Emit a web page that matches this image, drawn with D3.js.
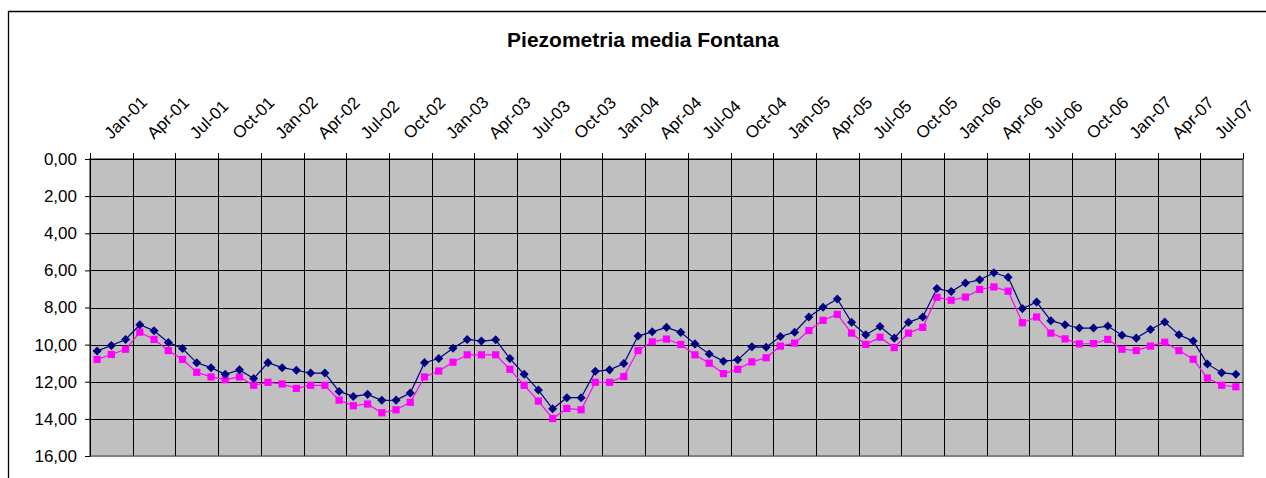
<!DOCTYPE html>
<html>
<head>
<meta charset="utf-8">
<script src="https://cdn.jsdelivr.net/npm/d3@7"></script>
<style>
  body { margin: 0; background: #fff; }
  svg text { font-family: Arial, "Liberation Sans", sans-serif; fill: #000; }
</style>
</head>
<body>
<svg id="grafico" width="1266" height="478"></svg>
<script>
// Piezometria media mensile, gen 2001 - set 2007 (m dal p.c.)
const mesi = d3.timeMonth.range(new Date(2001, 0, 1), new Date(2007, 9, 1));

const tickLabels = ["Jan-01","Apr-01","Jul-01","Oct-01","Jan-02","Apr-02","Jul-02","Oct-02",
    "Jan-03","Apr-03","Jul-03","Oct-03","Jan-04","Apr-04","Jul-04","Oct-04",
    "Jan-05","Apr-05","Jul-05","Oct-05","Jan-06","Apr-06","Jul-06","Oct-06",
    "Jan-07","Apr-07","Jul-07"];

const serieBlu = [10.34,10.05,9.72,8.93,9.25,9.88,10.21,10.98,11.24,11.60,11.36,11.83,
    10.97,11.24,11.38,11.53,11.53,12.52,12.79,12.68,13.00,12.99,12.61,10.97,
    10.75,10.19,9.72,9.81,9.74,10.75,11.60,12.45,13.46,12.86,12.86,11.44,
    11.36,11.02,9.54,9.31,9.07,9.34,9.96,10.50,10.89,10.82,10.12,10.14,
    9.56,9.33,8.51,7.99,7.54,8.80,9.47,9.02,9.65,8.80,8.51,6.98,
    7.14,6.68,6.51,6.13,6.37,8.06,7.70,8.71,8.93,9.11,9.11,9.00,
    9.49,9.65,9.18,8.78,9.47,9.81,11.04,11.51,11.60];

const serieRosa = [10.80,10.53,10.25,9.33,9.72,10.32,10.80,11.49,11.74,11.89,11.74,12.19,
    12.03,12.12,12.36,12.19,12.19,12.99,13.29,13.20,13.67,13.51,13.11,11.74,
    11.42,10.95,10.55,10.55,10.55,11.33,12.19,13.04,13.98,13.44,13.51,12.03,
    12.03,11.72,10.32,9.85,9.70,9.99,10.55,11.00,11.56,11.33,10.93,10.71,
    10.08,9.92,9.24,8.69,8.37,9.38,9.99,9.60,10.16,9.38,9.07,7.45,
    7.61,7.44,7.03,6.89,7.12,8.82,8.51,9.38,9.69,9.96,9.94,9.72,
    10.25,10.32,10.08,9.87,10.32,10.79,11.80,12.19,12.27];

const yTicks = [0, 2, 4, 6, 8, 10, 12, 14, 16];

const svg = d3.select("#grafico");
const area = { left: 90, right: 1243, top: 159, bottom: 456 };

const it = d3.formatLocale({ decimal: ",", thousands: ".", grouping: [3], currency: ["", "€"] });
const fmt = it.format(".2f");

const x = d3.scaleBand()
    .domain(mesi.map(d => +d))
    .range([area.left, area.right])
    .paddingInner(0).paddingOuter(0);

const y = d3.scaleLinear()
    .domain([0, 16])
    .range([area.top, area.bottom]);

const cx = d => x(+d) + x.bandwidth() / 2;

// bordo esterno del grafico
svg.append("path")
    .attr("d", "M8.5,478V11.5H1266")
    .attr("fill", "none")
    .attr("stroke", "#000")
    .attr("stroke-width", 1.3);

svg.append("text")
    .attr("x", 643)
    .attr("y", 47)
    .attr("text-anchor", "middle")
    .style("font-size", "21px")
    .style("font-weight", "bold")
    .text("Piezometria media Fontana");

// area del grafico
svg.append("rect")
    .attr("x", area.left).attr("y", area.top)
    .attr("width", area.right - area.left)
    .attr("height", area.bottom - area.top)
    .attr("fill", "#c0c0c0")
    .attr("stroke", "#808080")
    .attr("stroke-width", 2);

// griglia orizzontale
svg.append("g")
    .selectAll("line")
    .data(yTicks.slice(1, -1))
    .join("line")
    .attr("x1", area.left).attr("x2", area.right)
    .attr("y1", d => Math.round(y(d)) + 0.5).attr("y2", d => Math.round(y(d)) + 0.5)
    .attr("stroke", "#000");

// griglia verticale ogni trimestre
const trimestri = mesi.filter((d, i) => i % 3 === 0);
const xBordi = trimestri.map(d => x(+d)).concat([area.right]);

svg.append("g")
    .selectAll("line")
    .data(xBordi.slice(1, -1))
    .join("line")
    .attr("x1", d => Math.round(d) + 0.5).attr("x2", d => Math.round(d) + 0.5)
    .attr("y1", area.top).attr("y2", area.bottom)
    .attr("stroke", "#000");

// asse Y
const yAxis = svg.append("g")
    .attr("transform", `translate(${area.left},0)`)
    .call(d3.axisLeft(y).tickValues(yTicks).tickFormat(fmt).tickSize(5).tickSizeOuter(0).tickPadding(8));
yAxis.select(".domain").attr("stroke", "#000");
yAxis.selectAll("line").attr("stroke", "#000");
yAxis.selectAll("text")
    .style("font-size", "17px")
    .style("font-family", "Arial, 'Liberation Sans', sans-serif");

// asse X (in alto)
svg.append("line")
    .attr("x1", area.left).attr("x2", area.right)
    .attr("y1", area.top + 0.5).attr("y2", area.top + 0.5)
    .attr("stroke", "#000");

svg.append("g")
    .selectAll("line")
    .data(xBordi)
    .join("line")
    .attr("x1", d => Math.round(d) + 0.5).attr("x2", d => Math.round(d) + 0.5)
    .attr("y1", area.top - 6).attr("y2", area.top)
    .attr("stroke", "#000");

svg.append("g")
    .selectAll("text")
    .data(tickLabels)
    .join("text")
    .attr("transform", (d, i) => {
        const c = (xBordi[i] + xBordi[i + 1]) / 2;
        return `translate(${c},${area.top - 19}) rotate(-45)`;
    })
    .attr("text-anchor", "start")
    .style("font-size", "17px")
    .text(d => d);

// serie
const serie = [
    { valori: serieRosa, colore: "#ff00ff", simbolo: d3.symbolSquare, size: 52 },
    { valori: serieBlu, colore: "#000080", simbolo: d3.symbolDiamond2, size: 52 }
];

serie.forEach(s => {
    const line = d3.line()
        .x((d, i) => cx(mesi[i]))
        .y(d => y(d));

    svg.append("path")
        .datum(s.valori)
        .attr("d", line)
        .attr("fill", "none")
        .attr("stroke", s.colore)
        .attr("stroke-width", 1.2);

    svg.append("g")
        .selectAll("path")
        .data(s.valori)
        .join("path")
        .attr("transform", (d, i) => `translate(${cx(mesi[i])},${y(d)})`)
        .attr("d", d3.symbol().type(s.simbolo).size(s.size))
        .attr("fill", s.colore);
});
</script>
</body>
</html>
